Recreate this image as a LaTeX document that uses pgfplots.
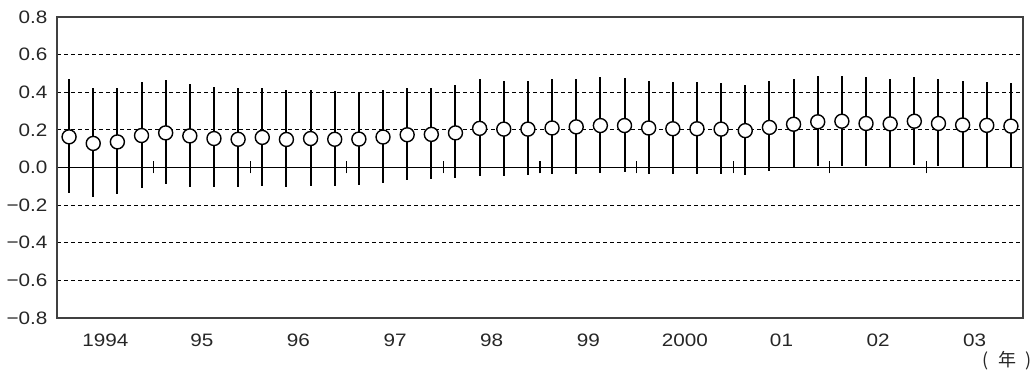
\documentclass[border=0pt]{standalone}
\usepackage{pgfplots}
\pgfplotsset{compat=1.18}
\usepackage{pgfplotstable}
\usepackage{fontspec}
\setmainfont{Liberation Sans}[FakeStretch=1.15]
\newfontfamily\cjk{Noto Sans CJK JP}

\pgfplotstableread{
x y top bot
0.5 0.163 0.473 -0.138
1.5 0.128 0.420 -0.156
2.5 0.136 0.423 -0.142
3.5 0.170 0.452 -0.108
4.5 0.184 0.466 -0.090
5.5 0.168 0.443 -0.103
6.5 0.154 0.427 -0.106
7.5 0.150 0.420 -0.103
8.5 0.160 0.420 -0.098
9.5 0.149 0.411 -0.106
10.5 0.154 0.411 -0.098
11.5 0.150 0.407 -0.100
12.5 0.151 0.402 -0.095
13.5 0.162 0.411 -0.081
14.5 0.174 0.420 -0.068
15.5 0.176 0.425 -0.062
16.5 0.184 0.437 -0.058
17.5 0.208 0.468 -0.043
18.5 0.204 0.459 -0.044
19.5 0.204 0.459 -0.041
20.5 0.210 0.468 -0.036
21.5 0.216 0.471 -0.032
22.5 0.223 0.480 -0.027
23.5 0.223 0.478 -0.023
24.5 0.210 0.461 -0.032
25.5 0.206 0.454 -0.032
26.5 0.206 0.456 -0.032
27.5 0.204 0.447 -0.032
28.5 0.196 0.439 -0.039
29.5 0.213 0.460 -0.018
30.5 0.230 0.473 0.000
31.5 0.243 0.486 0.007
32.5 0.246 0.486 0.009
33.5 0.234 0.479 0.007
34.5 0.232 0.468 0.004
35.5 0.246 0.479 0.012
36.5 0.234 0.468 0.009
37.5 0.226 0.461 0.004
38.5 0.224 0.456 0.004
39.5 0.220 0.451 0.004
}\data

\begin{document}
\begin{tikzpicture}
\useasboundingbox (-57pt,-54pt) rectangle (974pt,318pt);
% zero line with year separators
\begin{axis}[
  scale only axis, width=966pt, height=301pt,
  xmin=0, xmax=40, ymin=-0.8, ymax=0.8,
  axis x line=middle, axis y line=none,
  axis line style={-, black, line width=1.5pt},
  xtick={4,8,...,36}, xticklabels={},
  tick align=center, major tick length=12pt,
  xtick style={black, line width=1.3pt},
]
\end{axis}
\begin{axis}[
  name=main,
  scale only axis, width=966pt, height=301pt,
  xmin=0, xmax=40, ymin=-0.8, ymax=0.8,
  axis line style={black!75, line width=1.3pt},
  xtick={2,6,...,38},
  xticklabels={1994,95,96,97,98,99,2000,01,02,03},
  xtick style={draw=none},
  ytick={-0.8,-0.6,-0.4,-0.2,0,0.2,0.4,0.6,0.8},
  yticklabels={−0.8,−0.6,−0.4,−0.2,0.0,0.2,0.4,0.6,0.8},
  ytick style={draw=none},
  ymajorgrids,
  grid style={black, line width=0.9pt, dash pattern=on 4pt off 3pt},
  tick label style={font=\fontsize{18}{21}\selectfont, text=black!85},
  yticklabel style={xshift=-6pt},
  xticklabel style={yshift=-12pt},
]
\addplot[only marks, mark=*, mark size=7pt,
  mark options={fill=white, draw=black, line width=1.4pt},
  error bars/.cd, y dir=both, y explicit, error mark=none,
  error bar style={black, line width=2pt}]
  table[x=x, y=y,
    y error plus expr=\thisrow{top}-\thisrow{y},
    y error minus expr=\thisrow{y}-\thisrow{bot}] {\data};
\end{axis}
\node[font=\cjk\fontsize{18}{20}\selectfont, text=black!85] at ([xshift=-16pt, yshift=-43pt]main.south east) {(\enspace 年\enspace)};
\end{tikzpicture}
\end{document}
